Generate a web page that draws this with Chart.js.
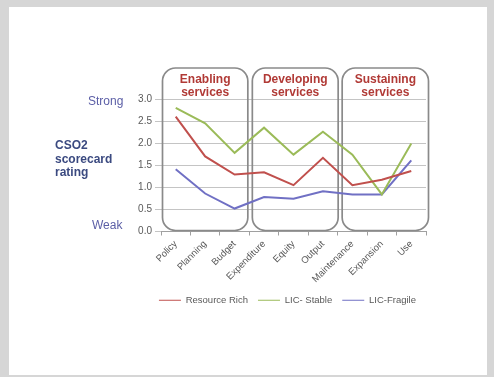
<!DOCTYPE html>
<html>
<head>
<meta charset="utf-8">
<script src="https://cdn.jsdelivr.net/npm/chart.js@4.4.1/dist/chart.umd.min.js"></script>
<style>
  html, body { margin: 0; padding: 0; }
  body { width: 494px; height: 377px; background: #d6d6d6; position: relative; overflow: hidden; font-family: 'Liberation Sans', Arial, sans-serif; }
  #sheet { position: absolute; left: 9px; top: 7px; width: 478px; height: 368px; background: #ffffff; }
  #wrap { position: absolute; left: 0; top: 0; width: 494px; height: 377px; }
  .side { position: absolute; color: #5b5ea6; font-size: 12px; }
  #rating { position: absolute; left: 55px; top: 139px; color: #3b4a80; font-size: 12px; font-weight: bold; line-height: 13.5px; }
</style>
</head>
<body>
<div id="sheet"></div>
<div id="wrap"><canvas id="chart" width="494" height="377"></canvas></div>
<div class="side" style="left:88px; top:94px;">Strong</div>
<div class="side" style="left:92px; top:218px;">Weak</div>
<div id="rating">CSO2<br>scorecard<br>rating</div>
<script>
const categories = ['Policy', 'Planning', 'Budget', 'Expenditure', 'Equity', 'Output', 'Maintenance', 'Expansion', 'Use'];
const resourceRich = [2.6, 1.7, 1.29, 1.34, 1.05, 1.67, 1.05, 1.17, 1.37];
const licStable = [2.8, 2.45, 1.78, 2.35, 1.74, 2.26, 1.74, 0.84, 1.99];
const licFragile = [1.41, 0.86, 0.52, 0.78, 0.74, 0.91, 0.84, 0.84, 1.61];
const yTicks = [0, 0.5, 1, 1.5, 2, 2.5, 3];

// service groups: [first category index, last category index, title lines]
const groups = [
  { from: 0, to: 2, title: ['Enabling', 'services'] },
  { from: 3, to: 5, title: ['Developing', 'services'] },
  { from: 6, to: 8, title: ['Sustaining', 'services'] }
];

const groupBoxes = {
  id: 'groupBoxes',
  beforeDatasetsDraw(chart) {
    const ctx = chart.ctx;
    const x = chart.scales.x;
    const y = chart.scales.y;
    const step = x.getPixelForValue(1) - x.getPixelForValue(0);
    ctx.save();
    groups.forEach((g, i) => {
      const left = x.getPixelForValue(g.from) - step / 2 + 1.5 + i * 1.5;
      const right = x.getPixelForValue(g.to) + step / 2 - 1.5 + i * 2;
      const top = y.getPixelForValue(3) - 31;
      const bottom = y.getPixelForValue(0) - 1;
      ctx.beginPath();
      ctx.roundRect(left, top, right - left, bottom - top, 13);
      ctx.lineWidth = 1.7;
      ctx.strokeStyle = '#8a8a8a';
      ctx.stroke();
      ctx.fillStyle = '#b13a36';
      ctx.font = 'bold 12px "Liberation Sans", Arial, sans-serif';
      ctx.textAlign = 'center';
      ctx.textBaseline = 'middle';
      const cx = (left + right) / 2;
      ctx.fillText(g.title[0], cx, top + 12);
      ctx.fillText(g.title[1], cx, top + 25);
    });
    ctx.restore();
  }
};

new Chart(document.getElementById('chart').getContext('2d'), {
  type: 'line',
  data: {
    labels: categories,
    datasets: [
      { label: 'Resource Rich', data: resourceRich, borderColor: '#c0504d', backgroundColor: '#c0504d' },
      { label: 'LIC- Stable', data: licStable, borderColor: '#9bbb59', backgroundColor: '#9bbb59' },
      { label: 'LIC-Fragile', data: licFragile, borderColor: '#7070c4', backgroundColor: '#7070c4' }
    ]
  },
  options: {
    responsive: false,
    animation: false,
    elements: {
      line: { borderWidth: 2, tension: 0 },
      point: { radius: 0 }
    },
    layout: { padding: { left: 120, right: 68, top: 99, bottom: 62 } },
    scales: {
      x: {
        offset: true,
        grid: { display: true, drawOnChartArea: false, drawTicks: true, tickLength: 4, color: '#a0a0a0', offset: true },
        border: { display: true, color: '#a0a0a0' },
        ticks: {
          autoSkip: false, minRotation: 45, maxRotation: 45, padding: 3,
          color: '#595959', font: { family: '"Liberation Sans", Arial, sans-serif', size: 9.5 }
        },
        afterFit(scale) { scale.height = 54; }
      },
      y: {
        min: 0, max: 3,
        grid: { color: '#c4c4c4', drawTicks: true, tickLength: 6, lineWidth: 1 },
        border: { display: false },
        afterBuildTicks(scale) { scale.ticks = yTicks.map(v => ({ value: v })); },
        ticks: {
          padding: 3, color: '#595959',
          font: { family: '"Liberation Sans", Arial, sans-serif', size: 10 },
          callback: v => Number(v).toFixed(1)
        },
        afterFit(scale) { scale.width = 41; }
      }
    },
    plugins: {
      legend: {
        position: 'bottom',
        align: 'end',
        labels: {
          usePointStyle: true, pointStyle: 'line', pointStyleWidth: 22,
          padding: 10, color: '#595959',
          font: { family: '"Liberation Sans", Arial, sans-serif', size: 9.5 }
        }
      },
      tooltip: { enabled: false }
    }
  },
  plugins: [groupBoxes]
});
</script>
</body>
</html>
